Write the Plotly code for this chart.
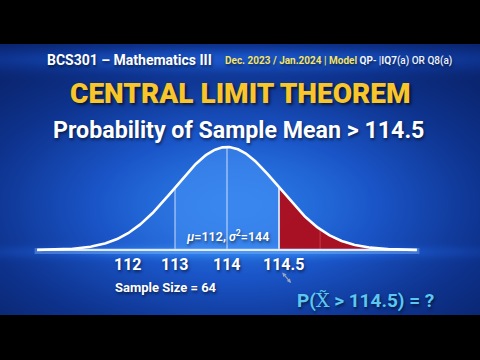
import numpy as np
import plotly.graph_objects as go

# ---- data ----
tick_labels = ["112", "113", "114", "114.5"]
tick_z = [-1.9, -1.0, 0.0, 1.08]          # label positions in curve units
divider_z = [-1.0, 0.0, 1.0]              # vertical lines under the curve
tail_divider_z = [1.79]
cut_z = 1.0                               # 114.5 boundary
mu, var, n = 112, 144, 64
threshold = 114.5

# curve in standardised units
z = np.linspace(-3.65, 3.65, 400)
pdf = np.exp(-z**2 / 2)

# axes mapping: 52 px per unit, centre at px 227, baseline at py 250, peak 103 px
W, H = 480, 360
xr = [-227 / 52, (W - 227) / 52]
yr = [(250 - H) / 103, 250 / 103]

def px2x(px):
    return (np.asarray(px) - 227) / 52

def py2y(py):
    return (250 - np.asarray(py)) / 103

fig = go.Figure()

# background gradient (blue band between black letterbox bars)
gx_px = np.linspace(0, W, 121)
gy_px = np.linspace(44, 315, 91)
PX, PY = np.meshgrid(gx_px, gy_px)
val = np.exp(-((PX - 235) / 250) ** 2 - ((PY - 205) / 130) ** 2)
hdr = np.exp(-((PY - 58) / 12) ** 2) * np.exp(-((PX - 240) / 300) ** 2) * 0.45
glow = np.exp(-((PY - 252) / 6) ** 2) * np.exp(-((PX - 230) / 260) ** 2) * 0.25
val = np.clip(val * 0.95 + hdr + glow, 0, 1)
fig.add_trace(go.Heatmap(
    x=px2x(gx_px), y=py2y(gy_px), z=val, zmin=0, zmax=1,
    colorscale=[[0, "#071a58"], [0.35, "#0e3490"], [0.7, "#1a55c8"], [1, "#2c7ce8"]],
    showscale=False, hoverinfo="skip", zsmooth="best"))

# whole curve fill (subtle)
fig.add_trace(go.Scatter(x=z, y=pdf, fill="tozeroy", mode="none",
                         fillcolor="rgba(90,160,255,0.10)", hoverinfo="skip"))
# middle band fill between 113 and 114.5
m = (z >= divider_z[0]) & (z <= cut_z)
fig.add_trace(go.Scatter(x=z[m], y=pdf[m], fill="tozeroy", mode="none",
                         fillcolor="rgba(80,160,255,0.35)", hoverinfo="skip"))
# red tail
t = z >= cut_z
fig.add_trace(go.Scatter(x=z[t], y=pdf[t], fill="tozeroy", mode="none",
                         fillcolor="rgba(172,14,30,0.97)", hoverinfo="skip"))

# vertical dividers
for d in divider_z:
    h = np.exp(-d**2 / 2)
    fig.add_trace(go.Scatter(x=[d, d], y=[0, h], mode="lines",
                             line=dict(color="rgba(255,255,255,0.75)" if d != cut_z else "rgba(255,255,255,0.95)",
                                       width=1 if d != cut_z else 1.5),
                             hoverinfo="skip"))
for d in tail_divider_z:
    h = np.exp(-d**2 / 2)
    fig.add_trace(go.Scatter(x=[d, d], y=[0, h], mode="lines",
                             line=dict(color="rgba(255,140,140,0.35)", width=1), hoverinfo="skip"))

# baseline glow + line
fig.add_trace(go.Scatter(x=[z[0] - 0.05, z[-1] + 0.05], y=[-0.01, -0.01], mode="lines",
                         line=dict(color="rgba(150,200,255,0.35)", width=6), hoverinfo="skip"))
fig.add_trace(go.Scatter(x=[z[0], z[-1]], y=[0, 0], mode="lines",
                         line=dict(color="rgba(235,240,255,0.95)", width=2), hoverinfo="skip"))
# curve
fig.add_trace(go.Scatter(x=z, y=pdf, mode="lines",
                         line=dict(color="white", width=2.6), hoverinfo="skip"))

# black letterbox bars
fig.add_shape(type="rect", xref="paper", yref="paper", x0=0, x1=1, y0=1 - 44 / H, y1=1,
              fillcolor="black", line_width=0, layer="above")
fig.add_shape(type="rect", xref="paper", yref="paper", x0=0, x1=1, y0=0, y1=1 - 315 / H,
              fillcolor="black", line_width=0, layer="above")

def py2p(py):
    return 1 - py / H

F = "Roboto"
shadow = "1px 2px 3px rgba(0,0,0,0.55)"
ann = []
# header
ann.append(dict(text="BCS301 – Mathematics III", x=45 / W, y=py2p(60), xref="paper", yref="paper",
                xanchor="left", yanchor="middle", showarrow=False,
                font=dict(family=F, size=14, color="white", weight=700, shadow=shadow)))
ann.append(dict(text="<span style='color:#f2e36a;font-weight:700'>Dec. 2023 / Jan.2024 | Model</span> "
                     "<b>QP</b>- |<b>IQ7</b>(a) OR Q8(a)",
                x=223 / W, y=py2p(61), xref="paper", yref="paper",
                xanchor="left", yanchor="middle", showarrow=False,
                font=dict(family=F, size=10, color="#eef3ff", weight=500, shadow=shadow)))
# title
ann.append(dict(text="CENTRAL LIMIT THEOREM", x=240 / W, y=py2p(94), xref="paper", yref="paper",
                xanchor="center", yanchor="middle", showarrow=False,
                font=dict(family=F, size=28, color="#f8c52a", weight=900,
                          shadow="2px 2px 3px rgba(0,0,0,0.6)")))
ann.append(dict(text=f"Probability of Sample Mean > {threshold}", x=238 / W, y=py2p(130),
                xref="paper", yref="paper", xanchor="center", yanchor="middle", showarrow=False,
                font=dict(family=F, size=23.2, color="white", weight=700, shadow=shadow)))
# mu / sigma
ann.append(dict(text=f"<i>μ</i>=112, <i>σ</i><sup>2</sup>={var}", x=0.0, y=float(py2y(236)),
                xref="x", yref="y", xanchor="center", yanchor="middle", showarrow=False,
                font=dict(family=F, size=12.5, color="white", weight=600, shadow=shadow)))
# tick labels
for lab, tz in zip(tick_labels, tick_z):
    ann.append(dict(text=lab, x=tz, y=float(py2y(264)), xref="x", yref="y",
                    xanchor="center", yanchor="middle", showarrow=False,
                    font=dict(family=F, size=16, color="white", weight=700, shadow=shadow)))
# sample size
ann.append(dict(text=f"Sample Size = {n}", x=113 / W, y=py2p(287), xref="paper", yref="paper",
                xanchor="left", yanchor="middle", showarrow=False,
                font=dict(family=F, size=13, color="white", weight=700, shadow=shadow)))
# probability question
ann.append(dict(text=f"P(<span style='font-family:DejaVu Serif;font-weight:normal'>X̃</span> > {threshold}) = ?",
                x=295 / W, y=py2p(300), xref="paper", yref="paper",
                xanchor="left", yanchor="middle", showarrow=False,
                font=dict(family=F, size=19, color="#5cc8f2", weight=700, shadow=shadow)))
# small arrow
ann.append(dict(x=float(px2x(291)), y=float(py2y(283)), ax=float(px2x(281)), ay=float(py2y(271)),
                xref="x", yref="y", axref="x", ayref="y", text="", showarrow=True, arrowhead=2,
                arrowside="end+start", arrowsize=0.7, arrowwidth=1.2, arrowcolor="#9aa6b8"))

fig.update_layout(
    width=W, height=H, margin=dict(l=0, r=0, t=0, b=0),
    paper_bgcolor="black", plot_bgcolor="black", showlegend=False,
    xaxis=dict(range=xr, visible=False, fixedrange=True),
    yaxis=dict(range=yr, visible=False, fixedrange=True),
    annotations=ann,
)
fig.write_html("out.html", config={"displayModeBar": False})
